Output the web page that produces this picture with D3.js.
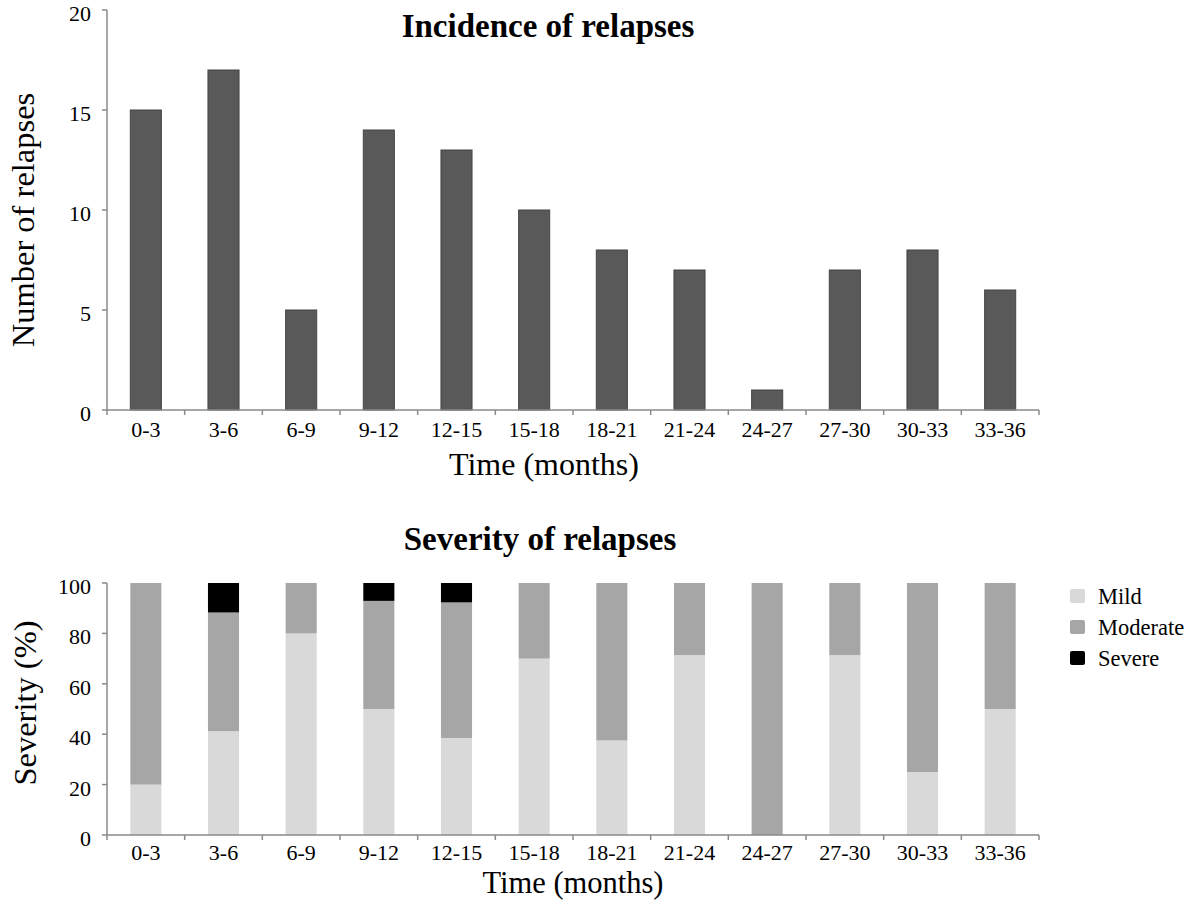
<!DOCTYPE html>
<html><head><meta charset="utf-8">
<script src="https://cdn.jsdelivr.net/npm/d3@7"></script>
<style>body{margin:0;background:#fff}svg{display:block}text{font-family:"Liberation Serif","Times New Roman",serif;fill:#000}</style>
</head><body>
<svg id="c" width="1202" height="901"></svg>
<script>
const categories = ["0-3","3-6","6-9","9-12","12-15","15-18","18-21","21-24","24-27","27-30","30-33","33-36"];
const relapses = [15,17,5,14,13,10,8,7,1,7,8,6];
const mild     = [20,41.2,80,50,38.5,70,37.5,71.4,0,71.4,25,50];
const moderate = [80,47.1,20,42.9,53.8,30,62.5,28.6,100,28.6,75,50];
const severe   = [0,11.7,0,7.1,7.7,0,0,0,0,0,0,0];
const countTicks = [0,5,10,15,20];
const pctTicks = [0,20,40,60,80,100];
const seriesNames = ["Mild","Moderate","Severe"];
const seriesColors = ["#d9d9d9","#a6a6a6","#000000"];

const svg = d3.select("#c");
const axisColor = "#8a8a8a";
const x = d3.scaleBand().domain(categories).range([107,1039]).paddingInner(0.6).paddingOuter(0.3);
const xb = d3.scaleBand().domain(categories).range([107,1039]);

function drawXAxis(yPos, labelOffset){
  const g = svg.append("g");
  g.append("line").attr("x1",107).attr("x2",1039).attr("y1",yPos).attr("y2",yPos).attr("stroke",axisColor).attr("stroke-width",1.5);
  const edges = categories.map(c=>xb(c)).concat([1039]);
  g.selectAll(".t").data(edges).enter().append("line")
    .attr("x1",d=>d).attr("x2",d=>d).attr("y1",yPos).attr("y2",yPos+5).attr("stroke",axisColor).attr("stroke-width",1.5);
  g.selectAll(".l").data(categories).enter().append("text")
    .attr("x",d=>xb(d)+xb.bandwidth()/2).attr("y",yPos+labelOffset).attr("text-anchor","middle")
    .style("font-size","22px").text(d=>d);
}
function drawYAxis(scale, ticks){
  const g = svg.append("g");
  const [r0,r1] = scale.range();
  g.append("line").attr("x1",107).attr("x2",107).attr("y1",r0).attr("y2",r1).attr("stroke",axisColor).attr("stroke-width",1.5);
  g.selectAll(".t").data(ticks).enter().append("line")
    .attr("x1",102).attr("x2",107).attr("y1",d=>scale(d)).attr("y2",d=>scale(d)).attr("stroke",axisColor).attr("stroke-width",1.5);
  g.selectAll(".l").data(ticks).enter().append("text")
    .attr("x",91).attr("y",d=>scale(d)+11).attr("text-anchor","end")
    .style("font-size","22px").text(d=>d);
}

// Top chart
const y1 = d3.scaleLinear().domain([0,20]).range([410,10]);
svg.append("g").selectAll("rect").data(categories).enter().append("rect")
  .attr("x",d=>x(d)).attr("width",x.bandwidth())
  .attr("y",(d,i)=>y1(relapses[i])).attr("height",(d,i)=>y1(0)-y1(relapses[i]))
  .attr("fill","#595959").attr("stroke","#444").attr("stroke-width",1);
drawYAxis(y1, countTicks);
drawXAxis(410, 27);
svg.append("text").attr("x",548).attr("y",37).attr("text-anchor","middle")
  .style("font-size","33px").style("font-weight","bold").text("Incidence of relapses");
svg.append("text").attr("transform","translate(34,220) rotate(-90)").attr("text-anchor","middle")
  .style("font-size","32.5px").text("Number of relapses");
svg.append("text").attr("x",544).attr("y",475).attr("text-anchor","middle")
  .style("font-size","32px").text("Time (months)");

// Bottom chart
const y2 = d3.scaleLinear().domain([0,100]).range([835,583]);
const table = categories.map((c,i)=>({cat:c, Mild:mild[i], Moderate:moderate[i], Severe:severe[i]}));
const stack = d3.stack().keys(seriesNames)(table);
svg.append("g").selectAll("g").data(stack).enter().append("g")
  .attr("fill",(d,i)=>seriesColors[i])
  .selectAll("rect").data(d=>d).enter().append("rect")
  .attr("x",d=>x(d.data.cat)).attr("width",x.bandwidth())
  .attr("y",d=>y2(d[1])).attr("height",d=>y2(d[0])-y2(d[1]));
drawYAxis(y2, pctTicks);
drawXAxis(835, 25);
svg.append("text").attr("x",540).attr("y",550).attr("text-anchor","middle")
  .style("font-size","33px").style("font-weight","bold").text("Severity of relapses");
svg.append("text").attr("transform","translate(36,703) rotate(-90)").attr("text-anchor","middle")
  .style("font-size","32.5px").text("Severity (%)");
svg.append("text").attr("x",573).attr("y",893).attr("text-anchor","middle")
  .style("font-size","30.5px").text("Time (months)");

// Legend
const lg = svg.append("g");
seriesNames.forEach((n,i)=>{
  const cy = 596 + i*31;
  lg.append("rect").attr("x",1070).attr("y",cy-7).attr("width",15).attr("height",14).attr("rx",2).attr("fill",seriesColors[i]);
  lg.append("text").attr("x",1098).attr("y",cy+8).style("font-size","22.5px").text(n);
});
</script>
</body></html>
